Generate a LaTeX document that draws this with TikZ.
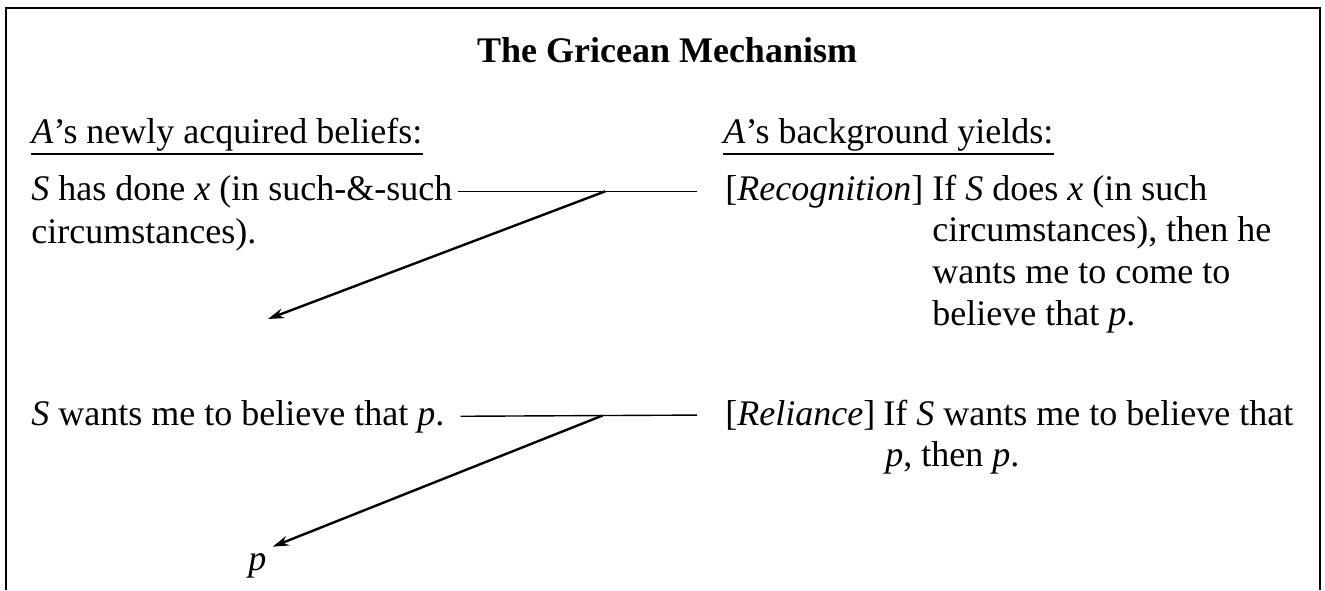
\documentclass[tikz,border=0pt]{standalone}
\usepackage{fontspec}
\setmainfont{Liberation Serif}
\usetikzlibrary{arrows.meta}
\tikzset{
  txt/.style={anchor=base west, inner sep=0pt, font=\fontsize{18}{20.5}\selectfont},
  link/.style={line width=0.7pt},
  infer/.style={line width=1.2pt, -{Stealth[length=8pt,width=5pt]}},
}
\begin{document}
\begin{tikzpicture}[x=0.5pt,y=-0.5pt]
  \useasboundingbox (0,0) rectangle (1325,590);
  \draw[line width=1pt] (6,590) -- (6,8) -- (1320,8) -- (1320,590);
  \node[txt, anchor=base, font=\fontsize{18}{20.5}\selectfont\bfseries] (title) at (667,62) {The Gricean Mechanism};
  \node[txt] (newhead) at (31,143) {\textit{A}'s newly acquired beliefs:};
  \node[txt] (bghead) at (723,143) {\textit{A}'s background yields:};
  \foreach \h in {newhead,bghead}{%
    \draw[line width=0.8pt] ([yshift=-5.5pt]\h.base west) -- ([yshift=-5.5pt]\h.base east);
  }
  \node[txt] (done) at (31,200) {\textit{S} has done \textit{x} (in such-\&-such};
  \node[txt] (donetail) at (31,243) {circumstances).};
  \node[txt] (recoglab) at (725,200) {[\textit{Recognition}]};
  \foreach \t [count=\r from 0] in {{If \textit{S} does \textit{x} (in such},{circumstances), then he},{wants me to come to},{believe that \textit{p}.}}{%
    \node[txt] (recog\r) at (932,{200+\r*41.7}) {\t};
  }
  \node[txt] (want) at (31,425) {\textit{S} wants me to believe that \textit{p}.};
  \node[txt] (relylab) at (725,425) {[\textit{Reliance}]};
  \foreach \t [count=\r from 0] in {{If \textit{S} wants me to believe that},{\textit{p}, then \textit{p}.}}{%
    \node[txt] (rely\r) at ({\r==0 ? 883 : 885},{425+\r*41}) {\t};
  }
  \node[txt, inner sep=3pt] (concl) at (242,570) {\textit{p}};
  \coordinate (gap) at (268,319);
  \draw[link, shorten <=2.5pt, shorten >=14pt] (done.east) -- coordinate[pos=0.56] (j1) (recoglab.west);
  \draw[link, shorten <=8pt, shorten >=14pt] (want.east) -- coordinate[pos=0.563] (j2) (relylab.west);
  \draw[infer] (j1) -- (gap);
  \draw[infer] (j2) -- (concl.north east);
\end{tikzpicture}
\end{document}
